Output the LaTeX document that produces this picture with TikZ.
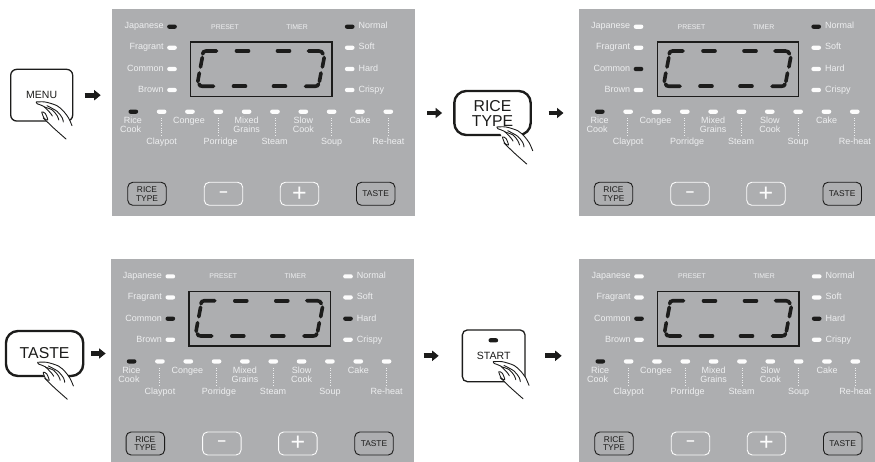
\documentclass[tikz,border=0pt]{standalone}
\usepackage{fontspec}
\setmainfont{Liberation Sans}
\usetikzlibrary{arrows.meta, positioning}
\definecolor{panelgrey}{RGB}{173, 174, 176}
\definecolor{panelink}{RGB}{238, 239, 240}
\definecolor{ledoff}{RGB}{252, 252, 252}
\definecolor{inkdark}{RGB}{28, 28, 27}
\tikzset{
  panelbox/.style={fill=panelgrey, inner sep=0pt, anchor=north west, minimum width=303pt, minimum height=207pt},
  led/.style={rectangle, rounded corners=2pt, inner sep=0pt, minimum width=9.6pt, minimum height=4.2pt},
  paneltxt/.style={text=panelink, inner sep=0pt, font=\fontsize{9}{9}\selectfont, text height=6.6pt, text depth=2pt},
  smalltxt/.style={text=panelink, inner sep=0pt, font=\fontsize{6.9}{7}\selectfont},
  segment/.style={inkdark, line width=3.6pt, line cap=round},
  softkey/.style={draw=inkdark, rounded corners=5pt, line width=0.9pt, inner sep=0pt, minimum width=38.5pt, minimum height=23pt, text=inkdark, align=center, font=\fontsize{8.4}{8.7}\selectfont},
  lightkey/.style={softkey, draw=ledoff, text=ledoff},
  keybox/.style={draw=inkdark, fill=white, rounded corners=6pt, line width=1.3pt, inner sep=0pt, text=inkdark, align=center, font=\fontsize{10.5}{11}\selectfont},
  bigkey/.style={keybox, rounded corners=12pt, line width=2.4pt, font=\fontsize{15.8}{15}\selectfont},
  steparrow/.style={-{Triangle[length=6.5pt,width=10pt]}, inkdark, line width=4.8pt}
}
% one control panel: name, x, y, lit left LED, lit right LED
\newcommand{\ricepanel}[5]{
  \begin{scope}[shift={(#2,#3)}]
    \node[panelbox] (#1) at (0,0) {};
    % Grain and taste rows
    \foreach \lbl/\y [count=\i] in {Japanese/17.7, Fragrant/38.7, Common/60, Brown/81} {
      \ifnum\i=#4 \def\ledcol{inkdark}\else\def\ledcol{ledoff}\fi
      \node[led, fill=\ledcol] (#1-g\i) at (60,\y) {};
      \node[paneltxt, left=3.2pt of #1-g\i] (#1-gt\i) {\lbl};
    }
    \foreach \lbl/\y [count=\i] in {Normal/17.7, Soft/38.7, Hard/60, Crispy/81} {
      \ifnum\i=#5 \def\ledcol{inkdark}\else\def\ledcol{ledoff}\fi
      \node[led, fill=\ledcol] (#1-r\i) at (237.7,\y) {};
      \node[paneltxt, right=3.6pt of #1-r\i] (#1-rt\i) {\lbl};
    }
    \node[smalltxt] (#1-preset) at (113,17.9) {PRESET};
    \node[smalltxt] (#1-timer) at (185,17.9) {TIMER};
    % Display
    \draw[inkdark, line width=1.3pt] (78.7,33) rectangle (220,87.3);
    \draw[segment] (90.6,45) .. controls (91,43) and (92,42.2) .. (94,42) -- (104.5,42);
    \foreach \xa in {124.5,165.5}
      \draw[segment] (\xa,42) -- ++(12,0);
    \draw[segment] (196.5,42) -- (207,42) .. controls (209,42.2) and (210.5,43) .. (211,45);
    \draw[segment] (87,75) .. controls (87.5,76.6) and (88.5,77.3) .. (90.5,77.3) -- (101.5,77.3);
    \foreach \xa in {121.5,161.5}
      \draw[segment] (\xa,77.3) -- ++(12,0);
    \draw[segment] (193.5,77.3) -- (203,77.3) .. controls (205,77.3) and (206,76.6) .. (206.6,75);
    \draw[segment] (90.3,48.5) -- (88.5,58);
    \draw[segment] (87.3,64) -- (85.8,72.5);
    \draw[segment] (212.2,48.5) -- (210.4,58);
    \draw[segment] (209,64) -- (207.4,72.5);
    % Programme row
    \foreach \i in {0,...,9} {
      \ifnum\i=0 \def\ledcol{inkdark}\else\def\ledcol{ledoff}\fi
      \node[led, fill=\ledcol] (#1-p\i) at ({21.3+28.33*\i},102.7) {};
    }
    \foreach \x/\y/\lbl [count=\i] in {21/112.7/Rice, 18.7/121.7/Cook, 49.7/133/Claypot, 77/112.7/Congee,
        108.7/133/Porridge, 134.7/112.7/Mixed, 134.7/121.7/Grains, 162.7/133/Steam, 191.3/112.7/Slow,
        191.3/121.7/Cook, 219.7/133/Soup, 248/112.7/Cake, 276.3/133/Re-heat}
      \node[paneltxt] (#1-pt\i) at (\x,\y) {\lbl};
    \foreach \x in {49.3,106,163,219.7,276.3}
      \draw[panelink, line width=0.7pt, dash pattern=on 1pt off 1.4pt] (\x,109) -- (\x,126);
    % Buttons
    \node[softkey] (#1-rice) at (35,184.8) {RICE\\TYPE};
    \node[lightkey, font=\fontsize{15}{15}\bfseries\selectfont] (#1-minus) at (111.5,184.8) {–};
    \node[lightkey, font=\fontsize{25}{25}\selectfont] (#1-plus) at (187.5,184.8) {+};
    \node[softkey] (#1-taste) at (263.7,184.8) {TASTE};
  \end{scope}
}
% hand pressing a key, tip of the finger at x, y
\newcommand{\presshand}[2]{
  \begin{scope}[shift={(#1,#2)}, inkdark, line width=0.9pt, line cap=round, line join=round]
    \fill[white] (0,0) -- (9,0) -- (20.7,3.7) -- (27.3,9.3) -- (32.3,16) -- (35.7,23.7) -- (33,25) -- (29.7,37)
      -- (17.3,26) -- (7,16) -- (5,10) -- cycle;
    \draw plot[smooth] coordinates {(0,0) (9,0) (20.7,3.7) (27.3,9.3) (32.3,16) (35.7,23.7)};
    \draw plot[smooth] coordinates {(0,0) (1,1.8) (7.3,4.3) (14,11) (16,14)};
    \draw plot[smooth] coordinates {(10.7,3.7) (20.7,9.3) (26,16) (27,20)};
    \draw plot[smooth] coordinates {(8,5) (16,8) (21,14) (22.5,18)};
    \draw plot[smooth cycle] coordinates {(5.5,10) (9,11.5) (11.5,18) (8,16.5)};
    \draw plot[smooth] coordinates {(7,16) (17.3,26) (29.7,37)};
  \end{scope}
}

\begin{document}
\begin{tikzpicture}[x=1pt, y=-1pt]
  \clip (0,0) rectangle (875,462);
  \ricepanel{panela}{112}{9}{1}{1}
  \ricepanel{panelb}{578.5}{9}{3}{1}
  \ricepanel{panelc}{110.3}{258.7}{3}{3}
  \ricepanel{paneld}{579}{258.7}{3}{3}
  % Keys
  \node[keybox, minimum width=62pt, minimum height=51.7pt] (menukey) at (41.7,95.2) {MENU};
  \node[bigkey, minimum width=76.4pt, minimum height=44pt] (ricekey) at (492.5,113) {RICE\\TYPE};
  \node[bigkey, minimum width=77.3pt, minimum height=45pt] (tastekey) at (44.6,353.5) {TASTE};
  \node[keybox, rounded corners=5pt, minimum width=62.7pt, minimum height=51.7pt] (startkey) at (493.7,355.8) {START};
  \node[led, fill=inkdark] (startled) at (493.3,340.3) {};
  \presshand{36.3}{102}
  \presshand{497}{127}
  \presshand{37.7}{362.3}
  \presshand{493.3}{361.7}
  % Arrows
  \draw[steparrow, shorten <=11.3pt, shorten >=11.3pt] (menukey.east) -- (panela.west |- menukey.east);
  \draw[steparrow, shorten <=12pt, shorten >=11pt] (panela.east |- ricekey.west) -- (ricekey.west);
  \draw[steparrow, shorten <=16.6pt, shorten >=15pt] (ricekey.east) -- (panelb.west |- ricekey.east);
  \draw[steparrow, shorten <=6.7pt, shorten >=4.7pt] (tastekey.east) -- (panelc.west |- tastekey.east);
  \draw[steparrow, shorten <=10pt, shorten >=23pt] (panelc.east |- startkey.west) -- (startkey.west);
  \draw[steparrow, shorten <=19.3pt, shorten >=17.3pt] (startkey.east) -- (paneld.west |- startkey.east);
\end{tikzpicture}
\end{document}
